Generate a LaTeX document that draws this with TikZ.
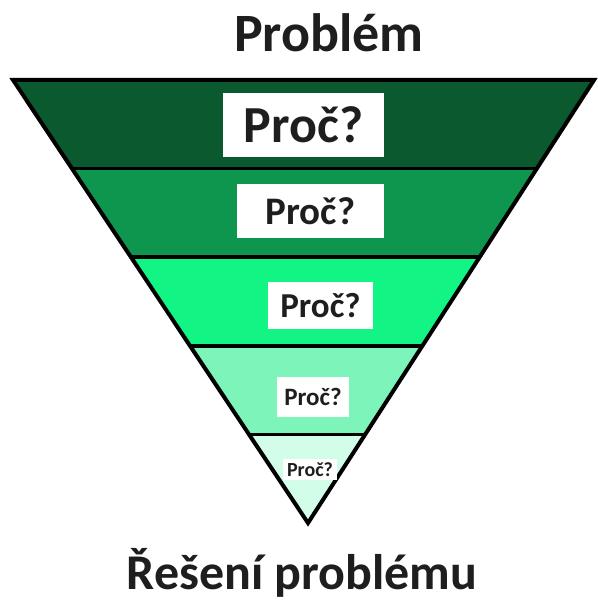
\documentclass[tikz,border=0pt]{standalone}
\usepackage{fontspec}
\setmainfont{Carlito}
\usetikzlibrary{calc}
\definecolor{bandA}{HTML}{0B5A2F}
\definecolor{bandB}{HTML}{0E964E}
\definecolor{bandC}{HTML}{12F585}
\definecolor{bandD}{HTML}{7CF4BA}
\definecolor{bandE}{HTML}{D2FDE9}
\definecolor{ink}{HTML}{1E1E1E}
\tikzset{
  label box/.style={fill=white, text=ink, font=\bfseries, inner sep=0pt, anchor=center},
  title text/.style={text=ink, inner sep=0pt, anchor=base},
  band line/.style={draw=black, line width=3.5pt},
}
\begin{document}
\begin{tikzpicture}[x=1pt,y=-1pt]
\useasboundingbox (0,0) rectangle (597,601);
\coordinate (TL) at (13,80);
\coordinate (TR) at (594,80);
\coordinate (A) at (308,523);
\foreach \i/\t in {1/0.2,2/0.4,3/0.6,4/0.8}{
  \coordinate (L\i) at ($(TL)!\t!(A)$);
  \coordinate (R\i) at ($(TR)!\t!(A)$);
}
\fill[bandA] (TL) -- (TR) -- (R1) -- (L1) -- cycle;
\fill[bandB] (L1) -- (R1) -- (R2) -- (L2) -- cycle;
\fill[bandC] (L2) -- (R2) -- (R3) -- (L3) -- cycle;
\fill[bandD] (L3) -- (R3) -- (R4) -- (L4) -- cycle;
\fill[bandE] (L4) -- (R4) -- (A) -- cycle;
\foreach \i in {1,2,3,4}{ \draw[band line] (L\i) -- (R\i); }
\draw[black, line width=4pt, line join=miter] (TL) -- (TR) -- (A) -- cycle;

\node[label box, minimum width=161pt, minimum height=64pt, font=\bfseries\fontsize{52}{56}\selectfont] (q1) at (303.5,125) {Proč?};
\node[label box, minimum width=147pt, minimum height=54pt, font=\bfseries\fontsize{39}{44}\selectfont] (q2) at (310.5,211) {Proč?};
\node[label box, minimum width=105pt, minimum height=47pt, font=\bfseries\fontsize{35}{40}\selectfont] (q3) at (320.5,305.5) {Proč?};
\node[label box, minimum width=72pt, minimum height=40pt, font=\bfseries\fontsize{25}{30}\selectfont] (q4) at (313,397) {Proč?};
\node[label box, minimum width=54pt, minimum height=21pt, font=\bfseries\fontsize{20}{24}\selectfont] (q5) at (310,469.5) {Proč?};

\node[title text, font=\bfseries\fontsize{54}{60}\selectfont] (top) at (329,52) {Problém};
\node[title text, font=\bfseries\fontsize{50}{56}\selectfont] (bottom) at (302,589) {Řešení problému};
\end{tikzpicture}
\end{document}
